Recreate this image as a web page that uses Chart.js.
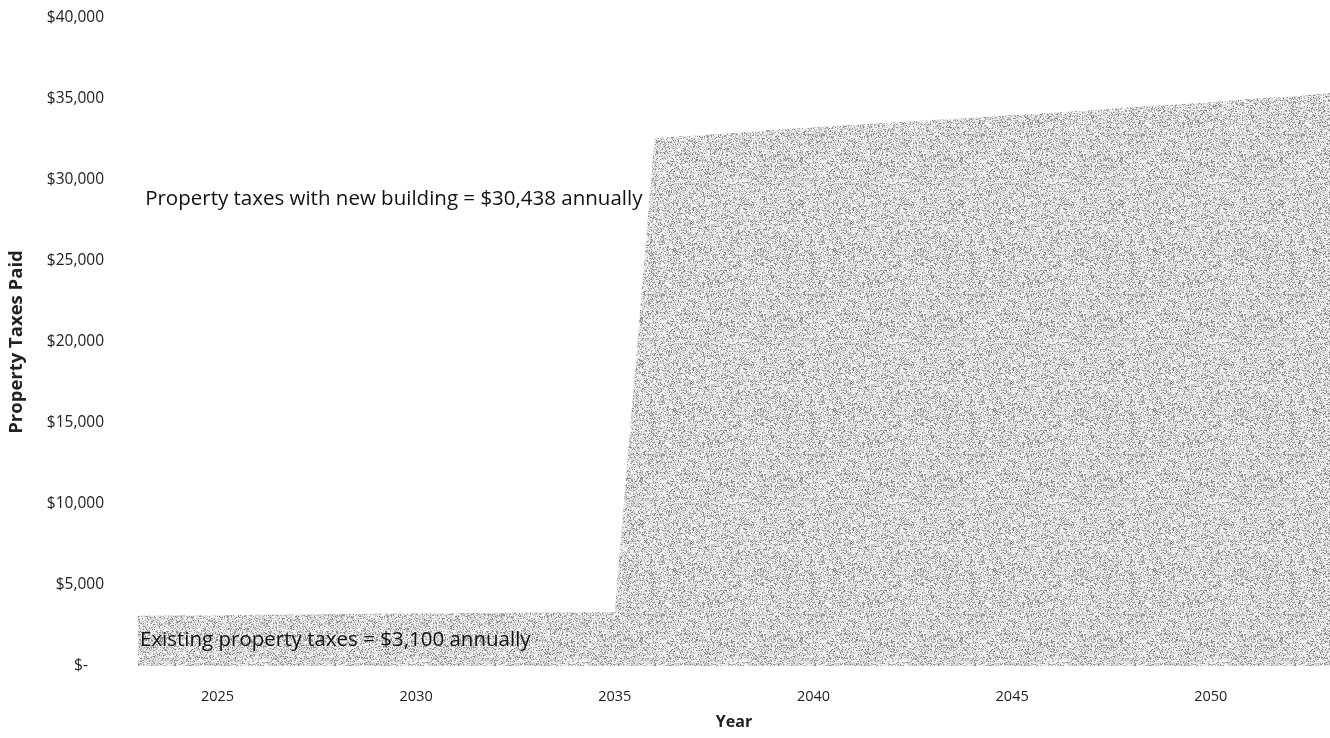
<!DOCTYPE html>
<html>
<head>
<meta charset="utf-8">
<script src="https://cdn.jsdelivr.net/npm/chart.js@4"></script>
<style>
  html, body { margin: 0; padding: 0; background: #fff; }
  #wrap { width: 1330px; height: 738px; }
</style>
</head>
<body>
<div id="wrap"><canvas id="taxChart"></canvas></div>
<script>
const years = [2023, 2024, 2025, 2026, 2027, 2028, 2029, 2030, 2031, 2032, 2033, 2034, 2035,
               2036, 2037, 2038, 2039, 2040, 2041, 2042, 2043, 2044, 2045, 2046, 2047, 2048,
               2049, 2050, 2051, 2052, 2053];
const taxesPaid = [3100, 3120, 3140, 3160, 3180, 3200, 3220, 3240, 3260, 3280, 3300, 3320, 3340,
                   32600, 32750, 32900, 33100, 33250, 33400, 33550, 33700, 33850, 34000, 34150,
                   34300, 34500, 34650, 34800, 35000, 35150, 35350];
const xTicks = [2025, 2030, 2035, 2040, 2045, 2050];
const yTicks = [0, 5000, 10000, 15000, 20000, 25000, 30000, 35000, 40000];
const noteNew = 'Property taxes with new building = $30,438 annually';
const noteOld = 'Existing property taxes = $3,100 annually';

// grainy grey fill, like the scanned original
function grainPattern() {
    const c = document.createElement('canvas');
    c.width = 160; c.height = 160;
    const g = c.getContext('2d');
    const img = g.createImageData(160, 160);
    for (let y = 0; y < 160; y++) {
        for (let x = 0; x < 160; x++) {
            let h = Math.imul(x, 374761393) + Math.imul(y, 668265263);
            h = Math.imul(h ^ (h >>> 13), 1274126177);
            h = (h ^ (h >>> 16)) >>> 0;
            const v = (h % 1000) / 1000;
            const grey = v < 0.16 ? 140 : v < 0.5 ? 198 : 242;
            const i = (y * 160 + x) * 4;
            img.data[i] = img.data[i + 1] = img.data[i + 2] = grey;
            img.data[i + 3] = 255;
        }
    }
    g.putImageData(img, 0, 0);
    return g.createPattern(c, 'repeat');
}

const notes = {
    id: 'notes',
    afterDatasetsDraw(chart) {
        const { ctx, scales: { x, y } } = chart;
        ctx.save();
        ctx.fillStyle = '#111';
        ctx.font = '20.5px "Open Sans"';
        ctx.textBaseline = 'middle';
        ctx.textAlign = 'left';
        ctx.fillText(noteNew, x.getPixelForValue(2023.18), y.getPixelForValue(28800));
        ctx.fillText(noteOld, x.getPixelForValue(2023.05), y.getPixelForValue(1600));
        ctx.restore();
    }
};

const ctx = document.getElementById('taxChart').getContext('2d');
const taxChart = new Chart(ctx, {
    type: 'line',
    data: {
        datasets: [{
            label: 'Property Taxes Paid',
            data: years.map((yr, i) => ({ x: yr, y: taxesPaid[i] })),
            backgroundColor: grainPattern(),
            borderWidth: 0,
            pointRadius: 0,
            fill: 'origin',
            tension: 0
        }]
    },
    options: {
        responsive: true,
        maintainAspectRatio: false,
        animation: false,
        layout: { padding: { top: 18, right: 0, left: 6, bottom: 6 } },
        plugins: {
            legend: { display: false },
            tooltip: { enabled: false }
        },
        scales: {
            x: {
                type: 'linear',
                min: 2023,
                max: 2053,
                grid: { display: false, drawTicks: false },
                border: { display: false },
                afterBuildTicks: s => { s.ticks = xTicks.map(v => ({ value: v })); },
                afterFit: s => { s.height = 66; },
                ticks: {
                    color: '#222',
                    font: { family: '"Open Sans"', size: 14.5 },
                    padding: 22,
                    callback: v => String(v)
                },
                title: {
                    display: true,
                    text: 'Year',
                    color: '#222',
                    font: { family: '"Open Sans"', size: 16, weight: 'bold' },
                    padding: { top: 0, bottom: 0 }
                }
            },
            y: {
                min: 0,
                max: 40000,
                grid: { display: false, drawTicks: false },
                border: { display: false },
                afterBuildTicks: s => { s.ticks = yTicks.map(v => ({ value: v })); },
                afterFit: s => { s.width = 132; s.paddingTop = 0; s.paddingBottom = 0; },
                ticks: {
                    color: '#222',
                    font: { family: '"Open Sans"', size: 15.5 },
                    padding: 34,
                    callback: v => v === 0 ? '$-    ' : '$' + v.toLocaleString('en-US')
                },
                title: {
                    display: true,
                    text: 'Property Taxes Paid',
                    color: '#222',
                    font: { family: '"Open Sans"', size: 18.5, weight: 'bold' },
                    padding: { top: 0, bottom: 0 }
                }
            }
        }
    },
    plugins: [notes]
});
</script>
</body>
</html>
